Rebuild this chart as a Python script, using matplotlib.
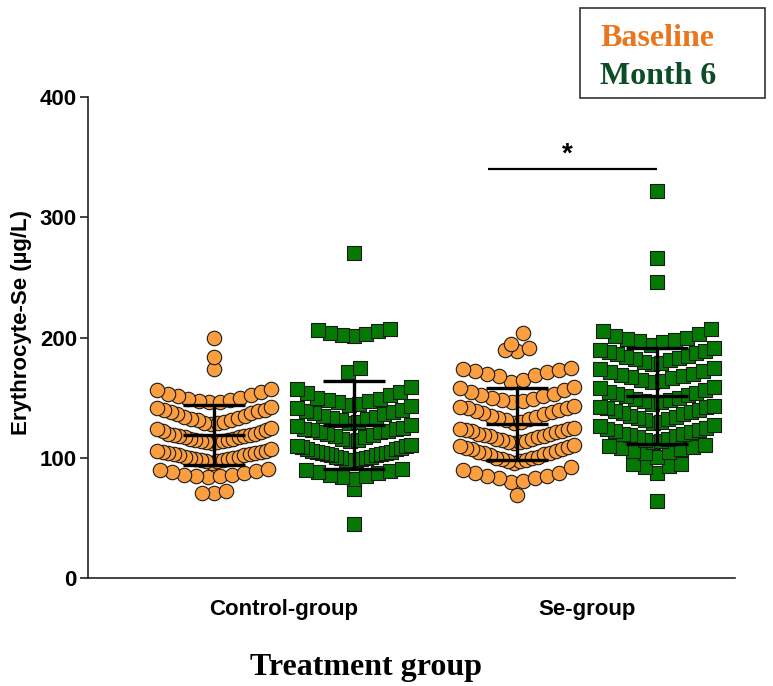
import numpy as np
import matplotlib
matplotlib.use("Agg")
import matplotlib.pyplot as plt
from matplotlib.patches import Rectangle

# ---- data (µg/L) ----
groups = ["Control-group", "Se-group"]
series = ["Baseline", "Month 6"]

ctrl_baseline = [
    71, 71, 72,
    84, 85, 85, 86, 86, 87, 88, 89, 90, 91,
    96, 97, 97, 98, 98, 99, 99, 100, 100, 101, 101, 102, 102, 103, 103,
    104, 104, 105, 105, 106, 106, 107,
    112, 113, 113, 114, 114, 115, 115, 116, 116, 117, 117, 118, 118, 119,
    119, 120, 120, 121, 122, 123, 124, 125,
    128, 129, 129, 130, 131, 131, 132, 133, 134, 135, 136, 137, 138, 139,
    140, 140, 141, 142,
    146, 146, 147, 148, 149, 150, 151, 152, 153, 155, 156, 157,
    174, 184, 200,
]
ctrl_month6 = [
    45, 74,
    82, 84, 85, 86, 87, 88, 89, 90, 91,
    97, 98, 98, 99, 100, 100, 101, 101, 102, 102, 103, 103, 104, 104, 105,
    105, 106, 107, 107, 108, 109, 110, 110, 111,
    114, 115, 116, 117, 118, 119, 120, 121, 121, 122, 123, 124, 124, 125,
    126, 127,
    129, 130, 131, 132, 133, 134, 135, 136, 137, 138, 139, 140, 141, 143,
    144, 145, 146, 147, 148, 149, 150, 152, 154, 155, 157, 159,
    171, 175,
    201, 202, 203, 204, 205, 206, 207,
    270,
]
se_baseline = [
    69,
    80, 81, 83, 83, 85, 85, 87, 87, 90, 92,
    96, 97, 97, 98, 99, 100, 100, 101, 102, 103, 104, 104, 105, 106, 107,
    107, 108, 109, 110, 111,
    112, 113, 113, 114, 115, 116, 116, 117, 118, 118, 119, 120, 120, 121,
    122, 122, 123, 124, 124, 125,
    129, 130, 131, 132, 133, 134, 135, 136, 137, 138, 139, 140, 141, 141,
    142, 143,
    146, 147, 148, 149, 150, 151, 152, 153, 155, 156, 158, 159,
    163, 165, 168, 169, 170, 171, 172, 173, 174, 175,
    189, 190, 191,
    195, 204,
]
se_month6 = [
    64,
    87, 92, 93, 95, 95,
    101, 104, 105, 106, 107, 108, 109, 110, 111,
    113, 114, 115, 116, 117, 118, 119, 120, 120, 121, 122, 123, 124, 125,
    126, 127,
    129, 130, 131, 132, 133, 134, 135, 136, 137, 138, 139, 140, 141, 142,
    142, 143,
    145, 146, 147, 148, 149, 150, 151, 152, 153, 154, 155, 156, 158, 159,
    163, 164, 165, 166, 167, 168, 169, 170, 171, 172, 174, 175,
    178, 179, 180, 181, 182, 183, 184, 185, 186, 187, 188, 189, 190, 191,
    194, 196, 197, 198, 199, 200, 201, 203, 205, 207,
    246, 266, 322,
]

values = {
    ("Control-group", "Baseline"): ctrl_baseline,
    ("Control-group", "Month 6"): ctrl_month6,
    ("Se-group", "Baseline"): se_baseline,
    ("Se-group", "Month 6"): se_month6,
}

yticks = [0, 100, 200, 300, 400]
sig_level = 340
sig_text = "*"

# ---- styles ----
ORANGE = "#FA9E40"
GREEN = "#047A04"
TXT_ORANGE = "#E8761E"
TXT_GREEN = "#0D4D26"
style = {
    "Baseline": dict(marker="o", facecolor=ORANGE),
    "Month 6": dict(marker="s", facecolor=GREEN),
}
group_pos = {"Control-group": 1.0, "Se-group": 2.0}
series_shift = {"Baseline": -0.23, "Month 6": 0.23}

W, H, DPI = 773, 686, 100
fig = plt.figure(figsize=(W / DPI, H / DPI), dpi=DPI)
ax_l, ax_r, ax_t, ax_b = 88, 735, 97, 578
ax = fig.add_axes([ax_l / W, 1 - ax_b / H, (ax_r - ax_l) / W, (ax_b - ax_t) / H])
ax.set_xlim(0.353, 2.488)
ax.set_ylim(0, 400)

# horizontal pixels per x-data unit, from the axes transform
px_per_unit = ax.transData.transform((1, 0))[0] - ax.transData.transform((0, 0))[0]


def band_offsets(vals, bin_h=16.0, step_px=12.0, max_px=114.0):
    """Column-scatter layout: points sharing a value band are spread
    sideways, lowest values in the middle."""
    vals = np.asarray(vals, float)
    bins = np.floor(vals / bin_h).astype(int)
    off = np.zeros_like(vals)
    for b in np.unique(bins):
        idx = np.where(bins == b)[0]
        n = len(idx)
        step = step_px if n <= 1 else min(step_px, max_px / (n - 1))
        slots = (np.arange(n) - (n - 1) / 2) * step
        slots = slots[np.argsort(np.abs(slots), kind="stable")]
        idx_sorted = idx[np.argsort(vals[idx], kind="stable")]
        off[idx_sorted] = slots / px_per_unit
    return off


cap_half = 31 / px_per_unit
for (g, s), vals in values.items():
    x0 = group_pos[g] + series_shift[s]
    v = np.asarray(vals, float)
    xs = x0 + band_offsets(v)
    st = style[s]
    ax.scatter(xs, v, s=108, marker=st["marker"], facecolor=st["facecolor"],
               edgecolor="#1a1a1a", linewidth=0.8, zorder=3)
    m, sd = v.mean(), v.std(ddof=1)
    ax.vlines(x0, m - sd, m + sd, color="black", lw=2.4, zorder=4)
    ax.hlines([m - sd, m, m + sd], x0 - cap_half, x0 + cap_half,
              color="black", lw=2.4, zorder=4)

# significance bracket
sx0 = 2.0 - 99 / px_per_unit
sx1 = group_pos["Se-group"] + series_shift["Month 6"]
ax.hlines(sig_level, sx0, sx1, color="black", lw=1.6)
ax.text(2.0 - 20 / px_per_unit, sig_level + 1, sig_text, ha="center", va="bottom",
        fontsize=20, fontweight="bold", family="Liberation Sans")

# axes styling
for side in ("top", "right"):
    ax.spines[side].set_visible(False)
for side in ("left", "bottom"):
    ax.spines[side].set_color("#222222")
    ax.spines[side].set_linewidth(1.2)
ax.set_yticks(yticks)
ax.set_xticks([group_pos[g] for g in groups])
ax.set_xticklabels(groups)
ax.tick_params(axis="y", length=6, width=1.2, pad=2, color="#222222")
ax.tick_params(axis="x", length=0, pad=15)
for lab in ax.get_xticklabels() + ax.get_yticklabels():
    lab.set_fontfamily("Liberation Sans")
    lab.set_fontweight("bold")
    lab.set_fontsize(16)

fig.text(22 / W, 1 - 322 / H, "Erythrocyte-Se (µg/L)", rotation=90,
         ha="center", va="center", fontsize=16, fontweight="bold",
         family="Liberation Sans")
fig.text(366 / W, 1 - 667 / H, "Treatment group", ha="center", va="center",
         fontsize=23, fontweight="bold", family="Liberation Serif")

# legend box
fig.add_artist(Rectangle((580 / W, 1 - 98 / H), 185 / W, 90 / H,
                         transform=fig.transFigure, facecolor="white",
                         edgecolor="#333333", linewidth=1.2))
fig.text(600 / W, 1 - 39 / H, "Baseline", ha="left", va="center",
         fontsize=23, fontweight="bold", family="Liberation Serif", color=TXT_ORANGE)
fig.text(600 / W, 1 - 76 / H, "Month 6", ha="left", va="center",
         fontsize=23, fontweight="bold", family="Liberation Serif", color=TXT_GREEN)

fig.savefig("out.png", dpi=DPI)
